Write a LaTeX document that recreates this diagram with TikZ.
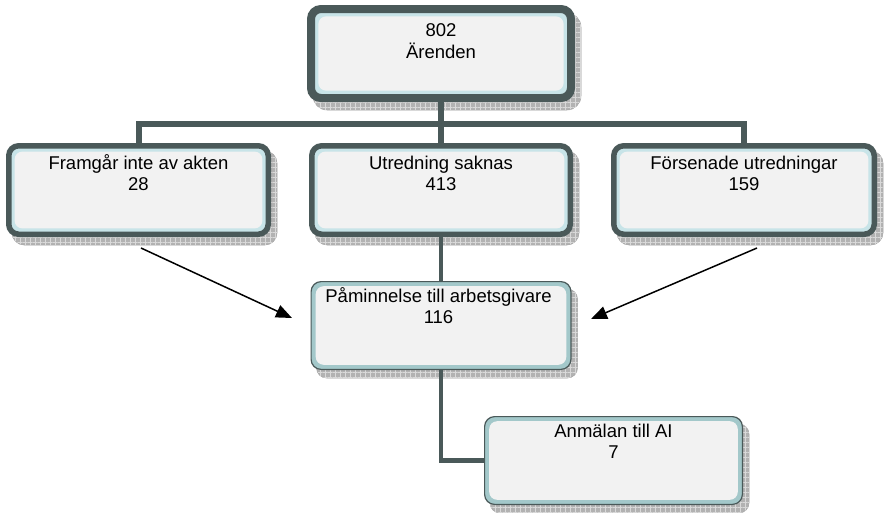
\documentclass[tikz,border=0pt]{standalone}
\usepackage{fontspec}
\setmainfont{Liberation Sans}
\usetikzlibrary{arrows.meta,patterns.meta}
\definecolor{dk}{RGB}{74,89,89}
\definecolor{bandlight}{RGB}{200,228,232}
\definecolor{bandteal}{RGB}{163,200,202}
\definecolor{panelfill}{RGB}{242,242,242}
\pgfdeclarelayer{shadowlayer}
\pgfdeclarelayer{lineslayer}
\pgfsetlayers{shadowlayer,lineslayer,main}
% #1 node, #2 panel inset, #3 half line width, #4 outer radius
\newcommand\deco[4]{%
  \begin{pgfonlayer}{shadowlayer}
    \path[shadowfill, rounded corners=#4]
      ([xshift=6pt-#3,yshift=-8pt-#3]#1.south west) rectangle
      ([xshift=6pt+#3,yshift=-8pt+#3]#1.north east);
  \end{pgfonlayer}
  \fill[panelfill, rounded corners=8pt]
    ([xshift=#2,yshift=#2]#1.south west) rectangle
    ([xshift=-#2,yshift=-#2]#1.north east);
}
\begin{document}
\begin{tikzpicture}[x=1pt,y=-1pt,
  thickbox/.style={draw=dk, fill=bandlight, rounded corners=10pt, outer sep=0pt, inner sep=0pt},
  thinbox/.style={draw=dk, fill=bandteal, line width=1.2pt, rounded corners=10pt, outer sep=0pt, inner sep=0pt},
  shadowfill/.style={draw=black!35, line width=0.5pt, fill=black!30, postaction={pattern={Hatch[distance=5pt,angle=0,line width=0.6pt]}, pattern color=white!85!black}},
  lbl/.style={anchor=north, inner sep=0pt, align=center, font=\fontsize{18.5}{21}\selectfont},
  tree/.style={draw=dk, line width=6pt},
  tree2/.style={draw=dk, line width=4.5pt},
  arr/.style={draw=black, line width=1.5pt, -{Triangle[length=16pt,width=13pt]}}]
\path[use as bounding box] (0,0) rectangle (884,512);

% boxes
\node[thickbox, line width=8pt, minimum width=260pt, minimum height=89pt] (top) at (441,53.5) {};
\deco{top}{7.3pt}{4pt}{14pt}
\node[thickbox, line width=5.5pt, minimum width=259.5pt, minimum height=88.5pt] (left) at (138.5,190) {};
\deco{left}{5.8pt}{2.75pt}{12pt}
\node[thickbox, line width=5.5pt, minimum width=258.5pt, minimum height=88.5pt] (mid) at (441,190) {};
\deco{mid}{5.8pt}{2.75pt}{12pt}
\node[thickbox, line width=5.5pt, minimum width=260.5pt, minimum height=88.5pt] (right) at (744,190) {};
\deco{right}{5.8pt}{2.75pt}{12pt}
\node[thinbox, minimum width=259.8pt, minimum height=87.8pt] (pmin) at (441,325.5) {};
\deco{pmin}{4.6pt}{0.6pt}{10pt}
\node[thinbox, minimum width=257.8pt, minimum height=87.8pt] (anm) at (613.5,460.5) {};
\deco{anm}{4.6pt}{0.6pt}{10pt}

% labels
\node[lbl] (topT) at (441,21.3) {\strut 802\\\strut Ärenden};
\node[lbl] (leftT) at (138.5,154.3) {\strut Framgår inte av akten\\\strut 28};
\node[lbl] (midT) at (441,154.3) {\strut Utredning saknas\\\strut 413};
\node[lbl] (rightT) at (744,154.3) {\strut Försenade utredningar\\\strut 159};
\node[lbl] (pminT) at (438.5,287.3) {\strut Påminnelse till arbetsgivare\\\strut 116};
\node[lbl] (anmT) at (613.5,422.3) {\strut Anmälan till AI\\\strut 7};

% connectors
\coordinate (hb) at (441,124);
\begin{pgfonlayer}{lineslayer}
  \draw[tree] (top.south) -- (hb);
  \draw[tree] (left.north) |- (hb) -| (right.north);
  \draw[tree] (hb) -- (mid.north);
  \draw[tree2] (mid.south) -- (pmin.north);
  \draw[tree2] (pmin.south) |- (anm.west);
\end{pgfonlayer}

% arrows
\coordinate (a1s) at (141,248);
\coordinate (a1e) at (292,318);
\coordinate (a2s) at (757,248);
\coordinate (a2e) at (591,319);
\draw[arr] (a1s) -- (a1e);
\draw[arr] (a2s) -- (a2e);
\end{tikzpicture}
\end{document}
